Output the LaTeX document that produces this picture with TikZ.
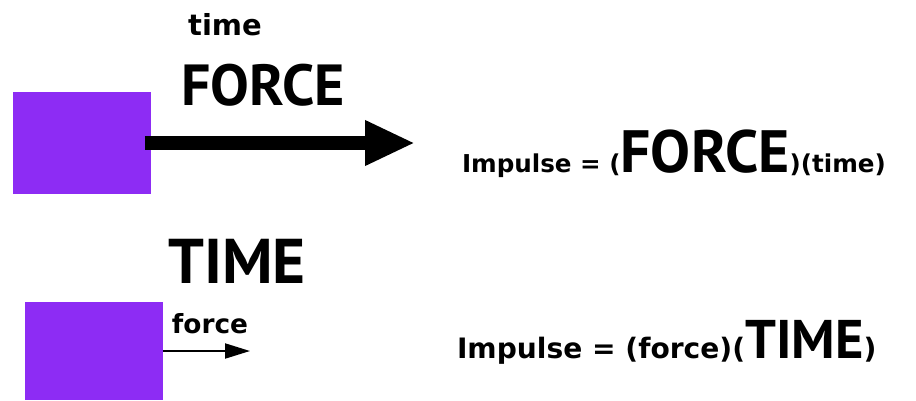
\documentclass[tikz,border=0pt]{standalone}
\usepackage{fontspec}
\setmainfont{DejaVu Sans}
\newfontfamily\capsfont{PT Sans}
\usetikzlibrary{arrows.meta}
\definecolor{boxviolet}{RGB}{141,44,244}
\begin{document}
\begin{tikzpicture}[
x=0.02cm, y=-0.02cm,
every node/.style={
inner sep=0pt,
outer sep=0pt,
font=\bfseries
},
mass/.style={
fill=boxviolet,
minimum width=2.76cm
},
bigpush/.style={
line width=0.28cm,
-{Triangle[length=1cm,width=0.84cm]}
},
smallpush/.style={
line width=0.04cm,
-{Triangle[length=0.5cm,width=0.3cm]}
}
]

\useasboundingbox (0,0) rectangle (916,400);

\node[mass, minimum height=2.04cm] (M1) at (82,143) {};
\coordinate (T1) at (415,143);
\draw[bigpush] ([xshift=-0.12cm]M1.east) -- (T1);

\node[anchor=base, font=\bfseries\fontsize{16.5}{20}\selectfont] (t1) at (225,35) {time};
\node[anchor=base, font=\bfseries\capsfont\fontsize{33}{38}\selectfont] (F1) at (263,105) {FORCE};

\node[anchor=base west, font=\bfseries\fontsize{14}{18}\selectfont] (I1) at (462,172)
{Impulse = ({\capsfont\fontsize{34}{40}\selectfont FORCE})(time)};

\node[mass, minimum height=1.96cm] (M2) at (94,351) {};
\coordinate (T2) at (250,351);
\draw[smallpush] (M2.east) -- (T2);

\node[anchor=base, font=\bfseries\capsfont\fontsize{36}{42}\selectfont] (T) at (237,283) {TIME};
\node[anchor=base, font=\bfseries\fontsize{15}{18}\selectfont] (f2) at (210,333) {force};

\node[anchor=base west, font=\bfseries\fontsize{16}{20}\selectfont] (I2) at (457,358)
{Impulse = (force)({\capsfont\fontsize{31}{36}\selectfont TIME})};

\end{tikzpicture}
\end{document}
